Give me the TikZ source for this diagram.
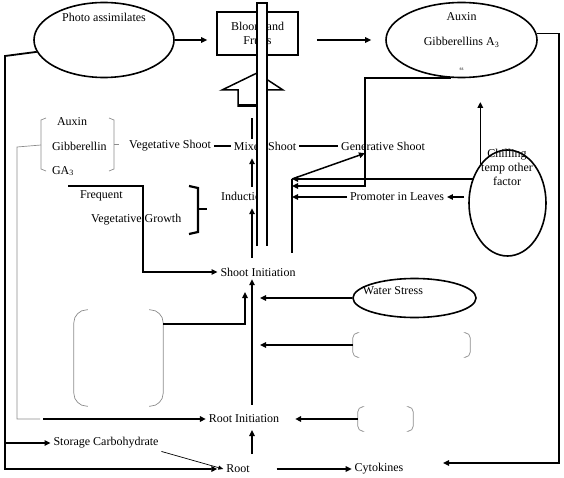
\documentclass[tikz,border=0pt]{standalone}
\usepackage{fontspec}
\setmainfont{Liberation Serif}
\usetikzlibrary{shapes.geometric,arrows.meta}
\tikzset{
  flowchart/.style={x=1pt, y=-1pt, font=\fontsize{12}{14}\selectfont},
  lbl/.style={inner sep=1pt, outer sep=2pt},
  blob/.style={ellipse, draw, line width=1.6pt, inner sep=0pt},
  brk/.style={draw=black!45, line width=0.7pt},
  thin line/.style={line width=0.7pt},
  mid line/.style={line width=1.5pt},
  thick line/.style={line width=2.6pt},
  arrowed/.style={-{Triangle[length=6pt,width=5.5pt]}},
}

\begin{document}
\begin{tikzpicture}[flowchart]
\useasboundingbox (0,0) rectangle (564,478);

\node [blob, minimum width=140pt, minimum height=75pt] (photo) at (104,40) {};
\node [lbl] (photoText) at (104,17) {Photo assimilates};
\node [draw, line width=1.6pt, minimum width=81pt, minimum height=43pt, align=center, inner sep=1pt]
  (bloom) at (257.5,33.5) {Bloom and\\Fruits};
\node [blob, minimum width=151pt, minimum height=75pt] (horm) at (461.5,40) {};
\node [lbl] (hormAux) at (461.5,17) {Auxin};
\node [lbl] (hormGib) at (461.5,42) {Gibberellins A\textsubscript{3}};
\node [lbl, font=\tiny] (hormNote) at (461.5,69) {ss};

\draw [thick line, arrowed, shorten >=9pt] (photo.east) -- (photo.east -| bloom.west);
\draw [thick line, arrowed, shorten <=18pt, shorten >=14pt] (bloom.east |- horm.west) -- (horm.west);

\draw [mid line, fill=white] (238,107) -- (238,90) -- (222,90) -- (257,73) -- (283,90) -- (267,90) -- (267,107);
\draw [line width=3pt] (238,105.5) -- (258,105.5);

\node [lbl] (veg) at (170,146) {Vegetative Shoot};
\node [lbl] (mixed) at (265,146) {Mixed Shoot};
\node [lbl] (gen) at (383,146) {Generative Shoot};
\draw [thick line] (veg) -- (mixed);
\draw [thick line] (mixed) -- (gen);

\node [lbl, anchor=west] (bAux) at (54,122) {Auxin};
\node [lbl, anchor=west] (bGib) at (49,146) {Gibberellin};
\node [lbl, anchor=west] (bGA) at (49,171) {GA\textsubscript{3}};
\draw [brk] (46,118) -- (41,120) -- (41,169) -- (46,171);
\draw [brk] (109,118) -- (114,120) -- (114,169) -- (109,171);
\draw [brk] (114,144) -- (119,144);
\draw [brk] (41,145) -- (17,147) -- (17,419) -- (40,419);
\coordinate (grayEnd) at (43,419);

\node [lbl, anchor=west] (freq) at (77,196) {Frequent};
\node [lbl, anchor=west] (vgrowth) at (88,220) {Vegetative Growth};
\draw [line width=2.2pt] (189,186) -- (198,188) -- (198,232) -- (189,234);
\draw [line width=2.2pt] (198,209) -- (207,209);
\node [lbl] (induct) at (244,196) {Induction};
\node [lbl] (shootInit) at (258,272) {Shoot Initiation};
\coordinate (freqStart) at (68,186);
\draw [thick line, arrowed] (freqStart) -- (143,186) |- (shootInit.west);

\coordinate (col) at (252,0);
\coordinate (blockFoot) at (252,118);
\draw [mid line, arrowed, shorten <=7pt, shorten >=5pt] (shootInit.north -| col) -- (induct.south -| col);
\draw [mid line, arrowed, shorten <=2pt, shorten >=5pt] (induct.north -| col) -- (mixed.south -| col);
\draw [mid line] (mixed.north -| col) -- (blockFoot);

\node [lbl] (rootInit) at (244,419) {Root Initiation};
\node [lbl] (root) at (238,469) {Root};
\draw [mid line, arrowed] (grayEnd) -- (rootInit.west);
\draw [mid line, arrowed, shorten <=7pt] (rootInit.north -| col) -- (shootInit.south -| col);
\draw [mid line, arrowed, shorten <=8pt, shorten >=4pt] (root.north -| col) -- (rootInit.south -| col);

\node [minimum width=89pt, minimum height=96pt, inner sep=0pt] (lbox) at (118.5,358) {};
\draw [brk, rounded corners=13pt] ([xshift=14pt]lbox.north west) -- (lbox.north west) -- (lbox.south west) -- ([xshift=14pt]lbox.south west);
\draw [brk, rounded corners=13pt] ([xshift=-14pt]lbox.north east) -- (lbox.north east) -- (lbox.south east) -- ([xshift=-14pt]lbox.south east);
\coordinate (lboxTip) at (245,292);
\draw [mid line, arrowed] ([yshift=-14pt]lbox.north east) -| (lboxTip);

\node [blob, minimum width=123pt, minimum height=39pt] (water) at (414.5,298) {};
\node [lbl] (waterText) at (393,291) {Water Stress};
\draw [mid line, arrowed, shorten >=8pt] (water.west) -- (water.west -| col);

\node [minimum width=117pt, minimum height=24pt, inner sep=0pt] (pbox1) at (411.5,345) {};
\node [minimum width=55pt, minimum height=24pt, inner sep=0pt] (pbox2) at (385.5,419) {};
\foreach \b in {pbox1,pbox2} {
  \draw [brk, rounded corners=5pt] ([xshift=4pt]\b.north west) -- (\b.north west) -- (\b.south west) -- ([xshift=4pt]\b.south west);
  \draw [brk, rounded corners=5pt] ([xshift=-4pt]\b.north east) -- (\b.north east) -- (\b.south east) -- ([xshift=-4pt]\b.south east);
}
\draw [thick line, arrowed, shorten >=8pt] (pbox1.west) -- (pbox1.west -| col);
\draw [mid line, arrowed, shorten >=13pt] (pbox2.west) -- (rootInit.east);

\node [blob, minimum width=77pt, minimum height=106pt] (chill) at (507.5,203) {};
\node [lbl, align=center] (chillText) at (507,167) {Chilling\\temp other\\factor};
\node [lbl] (promo) at (397,197) {Promoter in Leaves};

\coordinate (b1) at (292,179);
\coordinate (b2) at (292,186);
\coordinate (b3) at (292,197);
\coordinate (bEnd) at (292,253);
\draw [mid line] (b1) -- (bEnd);
\draw [mid line, arrowed] (chill.145 |- b1) -- (b1);
\draw [thick line, arrowed] (horm.255) -| (365,186) -- (b2);
\draw [mid line, arrowed, shorten <=4pt] (chill.west |- promo) -- (promo.east);
\draw [mid line, arrowed] (promo.west) -- (b3);
\draw [mid line, arrowed] (b1) -- ([xshift=-18pt]gen.south);
\coordinate (chillTip) at (480,102);
\draw [mid line, arrowed] (chill.125) -- (chill.125 |- chillTip);

\fill [white] (257,3) rectangle (267,246);
\draw [mid line] (257,246) -- (257,3) -- (267,3) -- (267,246);

\coordinate (frameTL) at (5,56);
\node [lbl] (storage) at (106,443) {Storage Carbohydrate};
\node [lbl] (cyto) at (379,469) {Cytokines};
\draw [line width=1.8pt, arrowed, shorten >=6pt] (photo.190) -- (frameTL) |- (root.west);
\draw [line width=1.8pt, arrowed] (frameTL |- storage) -- (storage.west);
\draw [thin line, -{Triangle[length=5pt,width=4pt]}] (storage.south east) -- (root.west);
\draw [mid line, arrowed, shorten <=24pt] (root.east) -- (cyto.west);
\coordinate (frameBR) at (559,463);
\coordinate (cytoTip) at (443,463);
\draw [line width=1.8pt, arrowed] (horm.5) -| (frameBR) -- (cytoTip);
\end{tikzpicture}
\end{document}
